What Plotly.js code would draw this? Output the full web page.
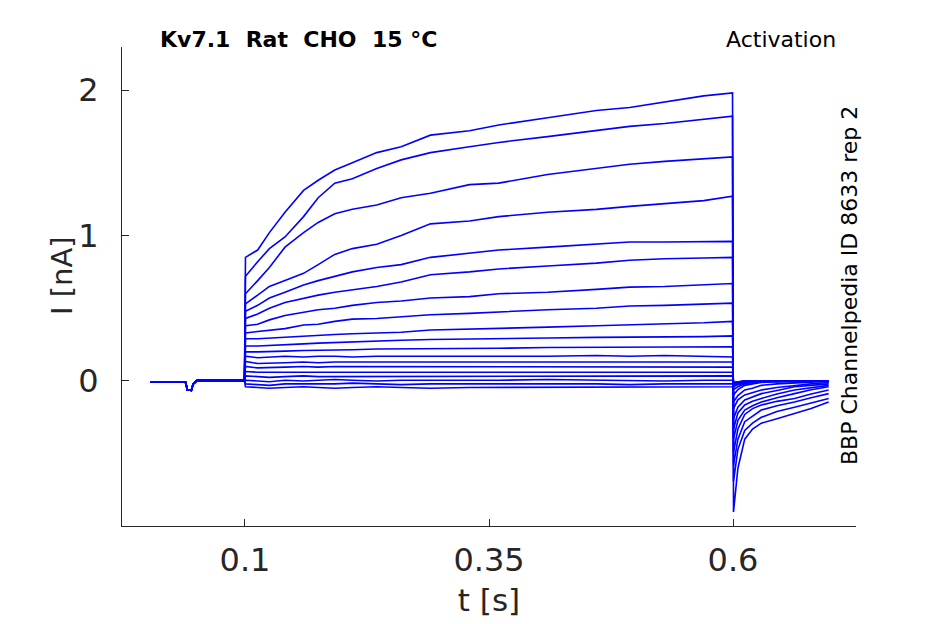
<!DOCTYPE html>
<html>
<head>
<meta charset="utf-8">
<script src="https://cdn.plot.ly/plotly-3.0.1.min.js"></script>
<style>html,body{margin:0;padding:0;background:#fff;}#chart{width:945px;height:624px;}</style>
</head>
<body>
<div id="chart"></div>
<script>
// Time samples (s)
const preTimes = [0.003, 0.039, 0.041, 0.045, 0.047, 0.051, 0.0995];
const stepTimes = [0.1005, 0.113, 0.125, 0.141, 0.16, 0.175, 0.192, 0.21, 0.235, 0.26, 0.29, 0.33, 0.36, 0.41, 0.46, 0.494, 0.53, 0.57, 0.5995,
                   0.6005, 0.605, 0.612, 0.62, 0.629, 0.645, 0.663, 0.68, 0.698];
// Holding current before the step (nA), shared by all sweeps
const preValues = [-0.008, -0.008, -0.06, -0.065, -0.02, 0.004, 0.004];
// Current (nA) during step and tail, one array per sweep
const i01 = [0.85, 0.90, 1.02, 1.16, 1.31, 1.38, 1.45, 1.50, 1.57, 1.61, 1.69, 1.72, 1.76, 1.81, 1.86, 1.88, 1.92, 1.96, 1.98, -0.90, -0.60, -0.40, -0.33, -0.29, -0.26, -0.225, -0.19, -0.145];
const i02 = [0.72, 0.82, 0.91, 0.99, 1.13, 1.26, 1.36, 1.39, 1.46, 1.52, 1.57, 1.61, 1.64, 1.68, 1.72, 1.75, 1.77, 1.80, 1.82, -0.69, -0.47, -0.34, -0.29, -0.25, -0.21, -0.18, -0.15, -0.12];
const i03 = [0.60, 0.69, 0.78, 0.92, 1.02, 1.09, 1.15, 1.18, 1.21, 1.26, 1.29, 1.35, 1.36, 1.42, 1.46, 1.49, 1.51, 1.53, 1.54, -0.58, -0.40, -0.28, -0.24, -0.20, -0.17, -0.145, -0.115, -0.087];
const i04 = [0.53, 0.59, 0.65, 0.69, 0.74, 0.80, 0.87, 0.91, 0.94, 1.00, 1.08, 1.10, 1.13, 1.16, 1.18, 1.20, 1.22, 1.24, 1.27, -0.49, -0.33, -0.23, -0.19, -0.165, -0.14, -0.12, -0.09, -0.062];
const i05 = [0.48, 0.52, 0.57, 0.61, 0.66, 0.69, 0.72, 0.75, 0.78, 0.80, 0.85, 0.88, 0.90, 0.92, 0.94, 0.955, 0.955, 0.96, 0.96, -0.40, -0.27, -0.20, -0.17, -0.145, -0.115, -0.087, -0.06, -0.04];
const i06 = [0.43, 0.46, 0.50, 0.54, 0.57, 0.59, 0.61, 0.625, 0.65, 0.68, 0.73, 0.75, 0.77, 0.79, 0.81, 0.83, 0.84, 0.845, 0.85, -0.33, -0.22, -0.165, -0.14, -0.12, -0.09, -0.062, -0.045, -0.03];
const i07 = [0.38, 0.39, 0.42, 0.45, 0.47, 0.49, 0.50, 0.52, 0.54, 0.55, 0.57, 0.58, 0.60, 0.61, 0.63, 0.645, 0.65, 0.66, 0.67, -0.26, -0.18, -0.13, -0.11, -0.087, -0.065, -0.04, -0.03, -0.02];
const i08 = [0.33, 0.34, 0.35, 0.36, 0.385, 0.39, 0.41, 0.425, 0.43, 0.44, 0.455, 0.465, 0.475, 0.49, 0.50, 0.515, 0.52, 0.53, 0.535, -0.19, -0.13, -0.096, -0.08, -0.062, -0.045, -0.03, -0.02, -0.01];
const i09 = [0.29, 0.29, 0.295, 0.30, 0.31, 0.315, 0.32, 0.325, 0.33, 0.335, 0.35, 0.355, 0.36, 0.37, 0.38, 0.385, 0.39, 0.40, 0.41, -0.145, -0.10, -0.062, -0.05, -0.03, -0.02, -0.015, -0.008, 0.0];
const i10 = [0.24, 0.24, 0.245, 0.25, 0.255, 0.26, 0.265, 0.27, 0.275, 0.28, 0.285, 0.29, 0.29, 0.295, 0.30, 0.30, 0.305, 0.305, 0.31, -0.096, -0.06, -0.03, -0.02, -0.01, -0.005, 0.0, 0.0, 0.0];
const i11 = [0.20, 0.20, 0.20, 0.205, 0.21, 0.21, 0.215, 0.215, 0.22, 0.22, 0.225, 0.225, 0.225, 0.23, 0.23, 0.23, 0.23, 0.235, 0.235, -0.06, -0.04, -0.02, -0.01, -0.005, 0.0, 0.0, 0.0, 0.0];
const i12 = [0.17, 0.16, 0.165, 0.17, 0.165, 0.17, 0.17, 0.165, 0.17, 0.17, 0.165, 0.17, 0.17, 0.17, 0.175, 0.17, 0.175, 0.17, 0.165, -0.04, -0.025, -0.015, -0.01, 0.0, 0.0, 0.0, 0.005, 0.0];
const i13 = [0.135, 0.12, 0.12, 0.125, 0.13, 0.125, 0.13, 0.13, 0.125, 0.13, 0.125, 0.13, 0.13, 0.13, 0.125, 0.13, 0.13, 0.13, 0.13, -0.03, -0.02, -0.01, -0.005, 0.0, -0.005, 0.0, 0.0, -0.005];
const i14 = [0.10, 0.09, 0.09, 0.095, 0.10, 0.095, 0.10, 0.10, 0.095, 0.10, 0.095, 0.10, 0.10, 0.095, 0.10, 0.095, 0.10, 0.10, 0.095, -0.025, -0.015, -0.01, 0.0, -0.005, 0.0, -0.005, 0.0, 0.0];
const i15 = [0.065, 0.06, 0.06, 0.065, 0.065, 0.06, 0.065, 0.06, 0.065, 0.06, 0.06, 0.065, 0.06, 0.06, 0.065, 0.06, 0.065, 0.06, 0.06, -0.02, -0.01, -0.005, 0.0, 0.0, -0.005, 0.0, 0.0, 0.0];
const i16 = [0.035, 0.03, 0.025, 0.03, 0.035, 0.03, 0.03, 0.035, 0.03, 0.035, 0.03, 0.03, 0.035, 0.03, 0.03, 0.035, 0.03, 0.035, 0.035, -0.015, -0.01, 0.0, -0.005, 0.0, 0.0, 0.0, -0.005, 0.0];
const i17 = [0.005, 0.0, -0.005, 0.005, 0.0, 0.005, 0.01, 0.005, 0.0, 0.005, 0.005, 0.0, 0.005, 0.01, 0.005, 0.005, 0.0, 0.005, 0.005, -0.01, -0.005, 0.0, 0.0, -0.005, 0.0, 0.0, 0.0, -0.005];
const i18 = [-0.02, -0.025, -0.03, -0.02, -0.02, -0.025, -0.02, -0.015, -0.02, -0.025, -0.02, -0.02, -0.015, -0.02, -0.02, -0.025, -0.02, -0.02, -0.02, -0.01, -0.005, 0.0, -0.005, 0.0, 0.0, -0.005, 0.0, 0.0];
const i19 = [-0.04, -0.045, -0.05, -0.045, -0.04, -0.045, -0.05, -0.045, -0.04, -0.045, -0.05, -0.045, -0.045, -0.04, -0.045, -0.045, -0.04, -0.045, -0.04, -0.01, -0.005, 0.0, 0.0, -0.005, 0.0, 0.0, -0.005, 0.0];

const xTickVals = [0.1, 0.35, 0.6];
const xTickText = ['0.1', '0.35', '0.6'];
const yTickVals = [0, 1, 2];
const yTickText = ['0', '1', '2'];

const sweeps = [i01, i02, i03, i04, i05, i06, i07, i08, i09, i10, i11, i12, i13, i14, i15, i16, i17, i18, i19];
const times = preTimes.concat(stepTimes);

const traces = sweeps.map(s => ({
  x: times,
  y: preValues.concat(s),
  type: 'scatter',
  mode: 'lines',
  line: {color: 'rgb(0,0,255)', width: 1.6},
  showlegend: false,
  hoverinfo: 'skip'
}));

const fontFam = 'DejaVu Sans, sans-serif';
const axCol = '#262626';

const layout = {
  width: 945, height: 624, autosize: false,
  margin: {l: 122, r: 89, t: 47, b: 98},
  paper_bgcolor: '#fff', plot_bgcolor: '#fff',
  font: {family: fontFam, color: axCol},
  xaxis: {
    range: [-0.026, 0.726], tickvals: xTickVals, ticktext: xTickText,
    ticks: 'inside', ticklen: 7, tickcolor: axCol, tickwidth: 1,
    showline: true, linecolor: axCol, linewidth: 1, mirror: false,
    showgrid: false, zeroline: false,
    tickfont: {size: 32, color: axCol, family: fontFam},
    ticklabelstandoff: 6,
    title: {text: 't [s]', font: {size: 31, color: axCol, family: fontFam}, standoff: 10}
  },
  yaxis: {
    range: [-0.997, 2.296], tickvals: yTickVals, ticktext: yTickText,
    ticks: 'inside', ticklen: 7, tickcolor: axCol, tickwidth: 1,
    showline: true, linecolor: axCol, linewidth: 1, mirror: false,
    showgrid: false, zeroline: false,
    tickfont: {size: 32, color: axCol, family: fontFam},
    ticklabelstandoff: 16,
    title: {text: '', font: {size: 28, color: axCol, family: fontFam}}
  },
  annotations: [
    {text: 'I [nA]', xref: 'paper', yref: 'paper',
     x: (62 - 122) / 734, y: (526 - 276) / 479, xanchor: 'center', yanchor: 'middle', textangle: -90, showarrow: false,
     font: {size: 29, color: axCol, family: fontFam}},
    {text: '<b>Kv7.1\u00a0\u00a0Rat\u00a0\u00a0CHO\u00a0\u00a015\u00a0°C</b>', xref: 'paper', yref: 'paper',
     x: 0.049, y: 1.0167, xanchor: 'left', yanchor: 'middle', showarrow: false,
     font: {size: 22, color: '#000', family: fontFam}},
    {text: 'Activation', xref: 'paper', yref: 'paper',
     x: 0.9755, y: 1.0167, xanchor: 'right', yanchor: 'middle', showarrow: false,
     font: {size: 22, color: '#000', family: fontFam}},
    {text: 'BBP Channelpedia ID 8633 rep 2', xref: 'paper', yref: 'paper',
     x: 0.9905, y: 0.501, xanchor: 'center', yanchor: 'middle', textangle: -90, showarrow: false,
     font: {size: 22, color: '#000', family: fontFam}}
  ]
};

Plotly.newPlot('chart', traces, layout, {staticPlot: true, displayModeBar: false});
</script>
</body>
</html>
